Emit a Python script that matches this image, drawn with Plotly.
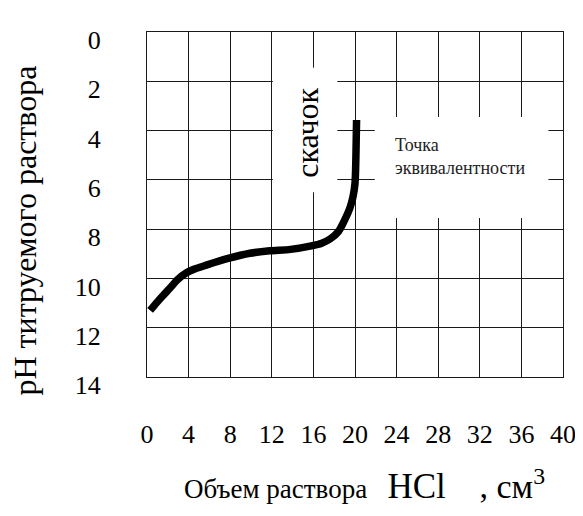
import plotly.graph_objects as go

# Data
volume_hcl = [0.3, 1.0, 1.6, 2.3, 2.9, 3.8, 4.7, 5.7, 7.8, 9.9, 11.8, 13.8, 15.8, 16.8, 17.6, 18.4, 19.0, 19.5, 19.8, 20.0, 20.1, 20.15]
ph_values = [11.3, 10.95, 10.67, 10.35, 10.06, 9.77, 9.6, 9.46, 9.19, 8.98, 8.88, 8.82, 8.68, 8.57, 8.4, 8.1, 7.63, 7.15, 6.7, 6.14, 4.79, 3.57]

x_ticks = [0, 4, 8, 12, 16, 20, 24, 28, 32, 36, 40]
y_ticks = [0, 2, 4, 6, 8, 10, 12, 14]

jump_label = "скачок"
eq_label = "Точка<br>эквивалентности"
x_title = "Объем раствора"
y_title = "pH титруемого раствора"

SERIF = "Liberation Serif, Times New Roman, serif"
NB = "\u00a0"

fig = go.Figure()
fig.add_trace(go.Scatter(
    x=volume_hcl, y=ph_values, mode="lines",
    line=dict(color="black", width=7.5, shape="spline", smoothing=0.8),
    showlegend=False, hoverinfo="skip",
))

# white boxes behind the annotations (above grid, below traces)
fig.add_shape(type="rect", x0=12.1, x1=18.3, y0=1.45, y1=6.5, layer="between",
              fillcolor="white", line=dict(width=0))
fig.add_shape(type="rect", x0=21.9, x1=38.6, y0=3.45, y1=7.55, layer="between",
              fillcolor="white", line=dict(width=0))

fig.add_annotation(x=15.35, y=4.1, text=jump_label, showarrow=False, textangle=-90,
                   font=dict(family=SERIF, size=32, color="black"))
fig.add_annotation(x=23.7, y=5.05, text=eq_label, showarrow=False, xanchor="left",
                   align="left", font=dict(family=SERIF, size=18, color="#222"))

# axis titles (placed as paper-anchored text)
xt = (x_title + NB + NB + NB + "<span style='font-size:35px'>HCl</span>" + NB * 5
      + "<span style='font-size:34px'>," + NB + "см<sup>3</sup></span>")
fig.add_annotation(xref="paper", yref="paper", x=0.522, y=-0.313, text=xt,
                   showarrow=False, xanchor="center", yanchor="middle",
                   font=dict(family=SERIF, size=27, color="black"))
fig.add_annotation(xref="paper", yref="paper", x=-0.292, y=0.423, text=y_title,
                   showarrow=False, textangle=-90, xanchor="center", yanchor="middle",
                   borderpad=0,
                   font=dict(family=SERIF, size=32, color="black"))

grid = dict(showgrid=True, gridcolor="#1a1a1a", gridwidth=1, zeroline=False,
            showline=True, linecolor="#1a1a1a", linewidth=1.2, mirror=True,
            ticks="", tickfont=dict(family=SERIF, size=26, color="black"))

fig.update_xaxes(range=[0, 40], tickvals=x_ticks, ticktext=[str(v) for v in x_ticks],
                 ticklabelstandoff=34, **grid)
fig.update_yaxes(range=[14, 0], tickvals=y_ticks, ticktext=[str(v) for v in y_ticks],
                 ticklabelstandoff=40, ticklabelshift=-8, **grid)

fig.update_layout(
    width=575, height=508,
    margin=dict(l=139, r=20, t=24, b=139, autoexpand=False),
    paper_bgcolor="white", plot_bgcolor="white",
    showlegend=False,
)

fig.write_html("out.html")
